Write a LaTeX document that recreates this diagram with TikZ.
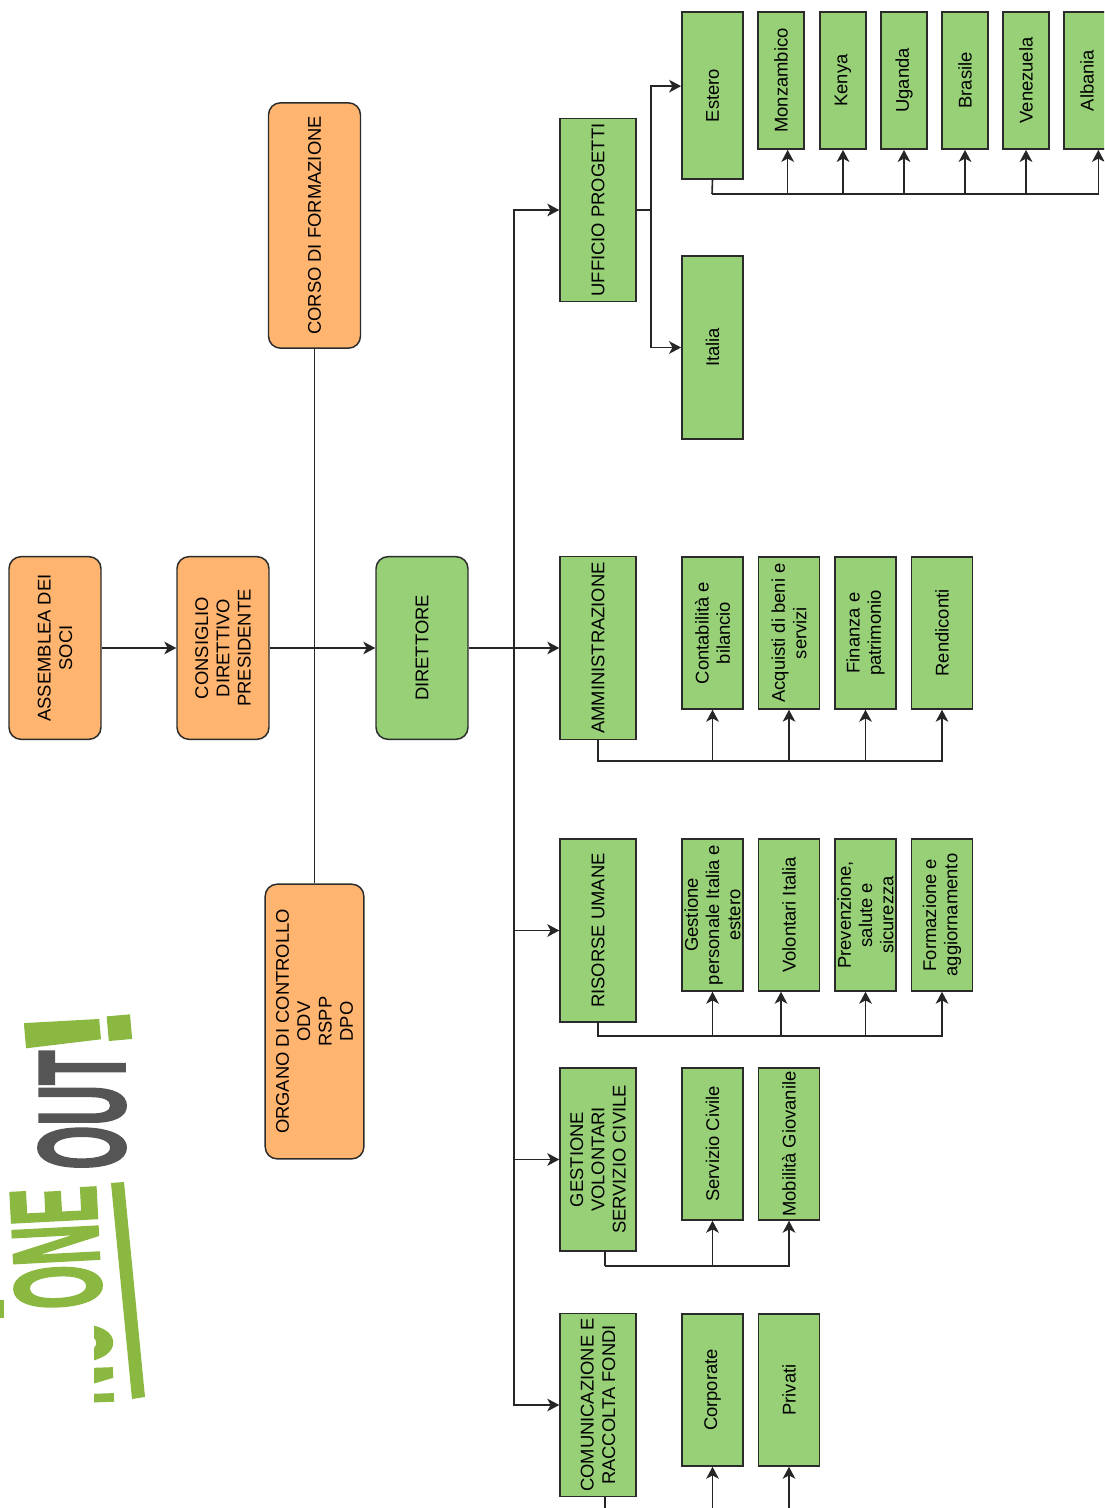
\documentclass[tikz,border=0pt]{standalone}
\usepackage{fontspec}
\setmainfont{Liberation Sans}
\newfontfamily\logofont[FakeBold=2.5]{Liberation Sans Bold}
\usetikzlibrary{arrows.meta}
\definecolor{boxgreen}{HTML}{97D077}
\definecolor{boxorange}{HTML}{FFB570}
\definecolor{boxline}{HTML}{2B2B2B}
\definecolor{logogreen}{HTML}{8BB840}
\definecolor{logogrey}{HTML}{555555}

\begin{document}
\begin{tikzpicture}[
    x=0.75pt,
    y=-0.75pt,
    >={Stealth[length=9pt,width=9.5pt,inset=2.5pt]},
    font=\fontsize{13.8}{16}\selectfont,
    link/.style={
		draw=black!85,
		line width=1.2pt
	},
    box/.style={
		rectangle,
		rotate=90,
		draw=boxline,
		line width=1.1pt,
		inner sep=0pt,
		align=center,
		text=black
	},
	board/.style={
		box,
		rounded corners=9pt,
		fill=boxorange,
		minimum width=137pt,
		minimum height=69pt
	},
	office/.style={
		box,
		fill=boxgreen,
		minimum width=137pt,
		minimum height=57pt
	},
	unit/.style={
		box,
		fill=boxgreen,
		minimum width=114pt,
		minimum height=46pt
	},
	country/.style={
		box,
		fill=boxgreen,
		minimum width=103pt,
		minimum height=34.5pt
	},
	logotext/.style={
		inner sep=0pt,
		font=\fontsize{92}{92}\selectfont\logofont
	}
  ]

 \clip (0,0) rectangle (1104,1508);

% // The logo
 \begin{scope}
 \clip (94,1325) rectangle (150,1410);
 \node [logotext, rotate=92, text=logogreen] (logono) at (69,1364) {\scalebox{.46}[1]{NO}};
 \end{scope}
 \fill [logogreen] (0,1300) -- (4,1300) -- (4,1318) -- (0,1318) -- cycle;
 \node [logotext, rotate=93, text=logogreen] (logoone) at (56,1248) {\scalebox{.46}[1]{ONE}};
 \node [logotext, rotate=90, text=logogrey] (logoout) at (82,1110) {\scalebox{.46}[1]{OUT}};
 \node [logotext, rotate=95, text=logogreen, font=\fontsize{112}{112}\selectfont\logofont] (logomark) at (78,1031) {!};
 \fill [logogreen] (111,1183) -- (124,1182) -- (145,1397) -- (132,1399) -- cycle;

% // The board
 \node [board] (assemblea) at (55,648) {ASSEMBLEA DEI\\SOCI};
 \node [board] (consiglio) at (223,648) {CONSIGLIO\\DIRETTIVO\\PRESIDENTE};
 \node [board, minimum width=184pt] (corso) at (314.5,225.5) {CORSO DI FORMAZIONE};
 \node [board, minimum width=206pt, minimum height=74pt] (organo) at (314.5,1021.5) {ORGANO DI CONTROLLO\\ODV\\RSPP\\DPO};
 \node [board, fill=boxgreen] (direttore) at (422,648) {DIRETTORE};

% // The offices
 \node [office] (ufficio) at (598,210) {UFFICIO PROGETTI};
 \node [office] (amministrazione) at (598,648) {AMMINISTRAZIONE};
 \node [office] (risorse) at (598,930.5) {RISORSE UMANE};
 \node [office] (volontari) at (598,1159.5) {GESTIONE\\VOLONTARI\\SERVIZIO CIVILE};
 \node [office] (comunicazione) at (598,1405) {COMUNICAZIONE E\\RACCOLTA FONDI};

% ufficio progetti
 \node [unit, minimum width=137pt] (italia) at (712.5,347.5) {Italia};
 \node [unit, minimum width=125pt] (estero) at (712.5,95.5) {Estero};
 \node [country] (monzambico) at (781,80.5) {Monzambico};
 \node [country] (kenya) at (843,80.5) {Kenya};
 \node [country] (uganda) at (904,80.5) {Uganda};
 \node [country] (brasile) at (965,80.5) {Brasile};
 \node [country] (venezuela) at (1026,80.5) {Venezuela};
 \node [country] (albania) at (1087,80.5) {Albania};

% amministrazione
 \node [unit] (contabilita) at (712.5,633) {Contabilità e\\bilancio};
 \node [unit] (acquisti) at (789,633) {Acquisti di beni e\\servizi};
 \node [unit] (finanza) at (865.5,633) {Finanza e\\patrimonio};
 \node [unit] (rendiconti) at (942,633) {Rendiconti};

% risorse umane
 \node [unit] (personale) at (712.5,915) {Gestione\\personale Italia e\\estero};
 \node [unit] (volitalia) at (789,915) {Volontari Italia};
 \node [unit] (prevenzione) at (865.5,915) {Prevenzione,\\salute e\\sicurezza};
 \node [unit] (formazione) at (942,915) {Formazione e\\aggiornamento};

% gestione volontari
 \node [unit] (civile) at (712.5,1144) {Servizio Civile};
 \node [unit] (mobilita) at (789,1144) {Mobilità Giovanile};

% comunicazione
 \node [unit] (corporate) at (712.5,1390) {Corporate};
 \node [unit] (privati) at (789,1390) {Privati};

% // The connectors
 \coordinate (spine) at (514,648);
 \coordinate (forkuff) at (651,210);
 \coordinate (busest) at (712,194);
 \coordinate (busamm) at (598,761);
 \coordinate (busris) at (598,1036);
 \coordinate (busvol) at (605,1266);
 \coordinate (endcom) at (605,1520);
 \coordinate (endcorp) at (712.5,1520);
 \coordinate (endpriv) at (789,1520);

 \draw [link, ->] (assemblea.south) -- (consiglio.north);
 \draw [link, ->] (consiglio.south) -- (direttore.north);
 \draw [link] (corso.west) -- (organo.east);
 \draw [link, ->] (direttore.south) -- (amministrazione.north);

 \draw [link, ->] (spine) |- (ufficio.north);
 \foreach \office in {risorse,volontari,comunicazione}
   \draw [link, ->] (spine) |- (\office.north);

 \draw [link] (ufficio.south) -- (forkuff);
 \draw [link, ->] (forkuff) |- ([yshift=7pt]estero.north);
 \draw [link, ->] (forkuff) |- (italia.north);

 \draw [link] (estero.west) -- (busest);
 \draw [link, ->] (busest) -| ([xshift=8.5pt]albania.west);
 \draw [link, ->] ([xshift=5pt]monzambico.west |- busest) -- ([xshift=5pt]monzambico.west);
 \foreach \place in {kenya,uganda,brasile,venezuela}
   \draw [link, ->] (\place.west |- busest) -- (\place.west);

 \draw [link, ->] (amministrazione.west) |- (busamm) -| (rendiconti.west);
 \foreach \task in {contabilita,acquisti,finanza}
   \draw [link, ->] (\task.west |- busamm) -- (\task.west);

 \draw [link, ->] (risorse.west) |- (busris) -| (formazione.west);
 \draw [link, ->] ([xshift=-6pt]volitalia.west |- busris) -- ([xshift=-6pt]volitalia.west);
 \foreach \task in {personale,prevenzione}
   \draw [link, ->] (\task.west |- busris) -- (\task.west);

 \draw [link] (busvol |- volontari.west) -- (busvol);
 \draw [link, ->] (busvol) -| (mobilita.west);
 \draw [link, ->] (civile.west |- busvol) -- (civile.west);

 \draw [link] (endcom |- comunicazione.west) -- (endcom);
 \draw [link, ->] (endcorp) -- (corporate.west);
 \draw [link, ->] (endpriv) -- (privati.west);

\end{tikzpicture}
\end{document}
